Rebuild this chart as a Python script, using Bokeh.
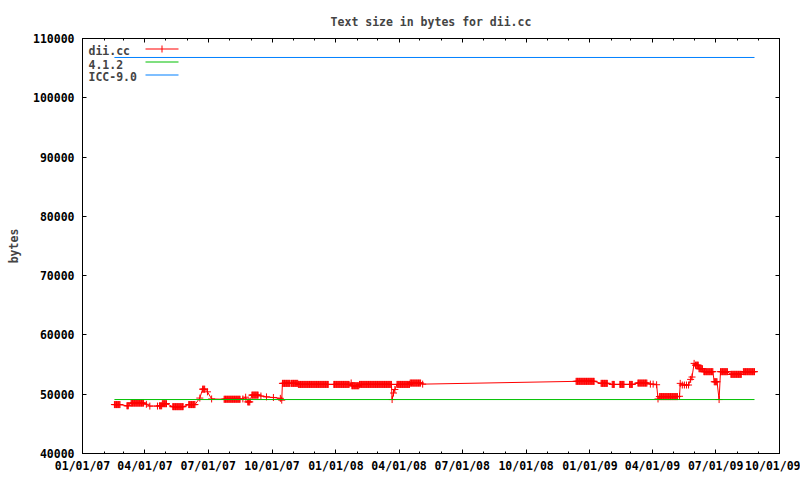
import pandas as pd
from bokeh.plotting import figure
from bokeh.models import (Range1d, FixedTicker, DatetimeAxis, LinearAxis, Label,
                          BoxAnnotation, DatetimeTickFormatter, BasicTickFormatter)
from bokeh.embed import file_html
from bokeh.resources import INLINE

# dii.cc text size: runs of consecutive daily builds (first day, last day, bytes)
run_first = ["2007-02-16", "2007-03-06", "2007-03-12", "2007-04-03", "2007-04-08", "2007-04-19",
             "2007-04-22", "2007-04-26", "2007-05-11", "2007-06-03", "2007-06-19", "2007-06-23",
             "2007-06-30", "2007-07-06", "2007-07-24", "2007-08-20", "2007-08-24", "2007-08-27",
             "2007-09-02", "2007-09-15", "2007-09-23", "2007-10-03", "2007-10-13", "2007-10-15",
             "2007-10-16", "2007-10-29", "2007-11-08", "2007-12-29", "2008-01-23", "2008-01-24",
             "2008-02-04", "2008-03-22", "2008-03-24", "2008-03-26", "2008-03-29", "2008-04-17",
             "2008-05-05", "2008-12-12", "2009-01-17", "2009-02-02", "2009-02-13", "2009-02-27",
             "2009-03-11", "2009-03-29", "2009-04-02", "2009-04-07", "2009-04-09", "2009-04-11",
             "2009-05-10", "2009-05-11", "2009-05-14", "2009-05-17", "2009-05-20", "2009-05-23",
             "2009-05-26", "2009-05-28", "2009-05-31", "2009-06-02", "2009-06-07", "2009-06-14",
             "2009-06-29", "2009-07-06", "2009-07-08", "2009-07-23", "2009-08-10"]
run_last = ["2007-02-24", "2007-03-08", "2007-03-30", "2007-04-03", "2007-04-08", "2007-04-19",
            "2007-04-25", "2007-05-02", "2007-05-26", "2007-06-12", "2007-06-19", "2007-06-26",
            "2007-06-30", "2007-07-06", "2007-08-16", "2007-08-20", "2007-08-24", "2007-08-30",
            "2007-09-11", "2007-09-15", "2007-09-23", "2007-10-03", "2007-10-13", "2007-10-15",
            "2007-10-27", "2007-11-07", "2007-12-21", "2008-01-20", "2008-01-23", "2008-02-03",
            "2008-03-21", "2008-03-22", "2008-03-24", "2008-03-26", "2008-04-16", "2008-05-02",
            "2008-05-05", "2009-01-07", "2009-01-26", "2009-02-05", "2009-02-19", "2009-03-03",
            "2009-03-24", "2009-03-29", "2009-04-02", "2009-04-07", "2009-04-09", "2009-05-07",
            "2009-05-10", "2009-05-11", "2009-05-14", "2009-05-17", "2009-05-20", "2009-05-23",
            "2009-05-26", "2009-05-28", "2009-05-31", "2009-06-06", "2009-06-12", "2009-06-27",
            "2009-07-03", "2009-07-06", "2009-07-18", "2009-08-07", "2009-08-26"]
run_bytes = [48250, 48050, 48500, 48300, 48000, 48000,
             48050, 48400, 47900, 48250, 49350, 50850,
             50400, 49200, 49150, 49200, 49500, 48700,
             49850, 49700, 49550, 49450, 49300, 49000,
             51830, 51830, 51650, 51650, 51900, 51430,
             51650, 49100, 50200, 50800, 51650, 51880,
             51700, 52170, 51830, 51650, 51650, 51650,
             51880, 51700, 51700, 51600, 49200, 49600,
             49650, 51830, 51550, 51550, 51550, 51550,
             52500, 52900, 55200, 54900, 54300, 53800,
             52100, 49100, 53800, 53350, 53800]

# reference compilers (constant over the dii.cc date span)
ref_start = "2007-02-16"
ref_end = "2009-08-26"
gcc412_bytes = 49100
icc90_bytes = 106800

x_tick_dates = ["2007-01-01", "2007-04-01", "2007-07-01", "2007-10-01", "2008-01-01", "2008-04-01",
                "2008-07-01", "2008-10-01", "2009-01-01", "2009-04-01", "2009-07-01", "2009-10-01"]
x_tick_labels = ["01/01/07", "04/01/07", "07/01/07", "10/01/07", "01/01/08", "04/01/08",
                 "07/01/08", "10/01/08", "01/01/09", "04/01/09", "07/01/09", "10/01/09"]
y_ticks = [40000, 50000, 60000, 70000, 80000, 90000, 100000, 110000]


def ms(s):
    return pd.Timestamp(s).value / 1e6


dates, vals = [], []
for f, l, v in zip(run_first, run_last, run_bytes):
    for d in pd.date_range(f, l, freq="D"):
        dates.append(d)
        vals.append(v)

FONT = "DejaVu Sans Mono"
FS = "11.5px"

p = figure(width=800, height=476, x_axis_type="datetime",
           x_range=Range1d(ms(x_tick_dates[0]), ms(x_tick_dates[-1])),
           y_range=Range1d(y_ticks[0], y_ticks[-1]),
           output_backend="svg", toolbar_location=None,
           min_border_left=82, min_border_right=21, min_border_top=38, min_border_bottom=23)
p.background_fill_color = "white"
p.border_fill_color = "white"
p.outline_line_color = "black"
p.outline_line_width = 1
p.grid.visible = False

p.title.text = "Text size in bytes for dii.cc"
p.title.align = "center"
p.title.text_font = FONT
p.title.text_font_size = FS
p.title.text_font_style = "bold"
p.title.standoff = 20

p.line(dates, vals, line_color="#ff0000", line_width=1)
p.scatter(dates, vals, marker="cross", size=7, line_color="#ff0000", line_width=1)
p.line([pd.Timestamp(ref_start), pd.Timestamp(ref_end)], [gcc412_bytes, gcc412_bytes],
       line_color="#00c000", line_width=1)
p.line([pd.Timestamp(ref_start), pd.Timestamp(ref_end)], [icc90_bytes, icc90_bytes],
       line_color="#0080ff", line_width=1)

major_ms = [ms(d) for d in x_tick_dates]
minor_ms = [ms(d) for d in pd.date_range(x_tick_dates[0], x_tick_dates[-1], freq="MS")]
xticker = FixedTicker(ticks=major_ms, minor_ticks=minor_ms)
yticker = FixedTicker(ticks=y_ticks, minor_ticks=[])


def style_axis(ax, show_labels=True):
    ax.axis_line_color = "black"
    ax.major_tick_in = 4
    ax.major_tick_out = 0
    ax.minor_tick_in = 2
    ax.minor_tick_out = 0
    ax.major_tick_line_color = "black"
    ax.minor_tick_line_color = "black"
    ax.major_label_text_font = FONT
    ax.major_label_text_font_style = "bold"
    if show_labels:
        ax.major_label_text_font_size = FS
        ax.major_label_text_color = "black"
    else:
        ax.major_label_text_font_size = "1px"
        ax.major_label_text_color = None
        ax.major_label_standoff = 0


xa = p.xaxis[0]
xa.ticker = xticker
xa.formatter = DatetimeTickFormatter(days="%m/%d/%y", months="%m/%d/%y", years="%m/%d/%y")
xa.major_label_overrides = {m: t for m, t in zip(major_ms, x_tick_labels)}
style_axis(xa)
xa.major_label_standoff = 5

ya = p.yaxis[0]
ya.ticker = yticker
ya.formatter = BasicTickFormatter(use_scientific=False)
style_axis(ya)
ya.minor_tick_line_color = None
ya.major_label_standoff = 8
ya.axis_label = "bytes"
ya.axis_label_text_font = FONT
ya.axis_label_text_font_size = FS
ya.axis_label_text_font_style = "bold"
ya.axis_label_standoff = 9

top = DatetimeAxis(ticker=xticker)
style_axis(top, show_labels=False)
p.add_layout(top, "above")
right = LinearAxis(ticker=yticker)
style_axis(right, show_labels=False)
right.minor_tick_line_color = None
p.add_layout(right, "right")

# key (text left of sample line, as in the original)
FH = 415
key_names = ["dii.cc", "4.1.2", "ICC-9.0"]
key_colors = ["#ff0000", "#00c000", "#0080ff"]
for i, (name, col) in enumerate(zip(key_names, key_colors)):
    p.add_layout(Label(x=6, y=FH - 12.5 - 13 * i, x_units="screen", y_units="screen", text=name,
                       text_font=FONT, text_font_size=FS, text_font_style="bold",
                       text_baseline="middle", text_align="left"))
    ytop = FH - 10 - 13 * i
    p.add_layout(BoxAnnotation(left=63, right=96, top=ytop, bottom=ytop - 1,
                               left_units="screen", right_units="screen",
                               top_units="screen", bottom_units="screen",
                               fill_color=col, fill_alpha=1, line_color=None,
                               line_alpha=0))
p.add_layout(BoxAnnotation(left=79, right=80, top=FH - 7, bottom=FH - 14,
                           left_units="screen", right_units="screen",
                           top_units="screen", bottom_units="screen",
                           fill_color="#ff0000", fill_alpha=1, line_color=None, line_alpha=0))

open("out.html", "w").write(file_html(p, INLINE))
